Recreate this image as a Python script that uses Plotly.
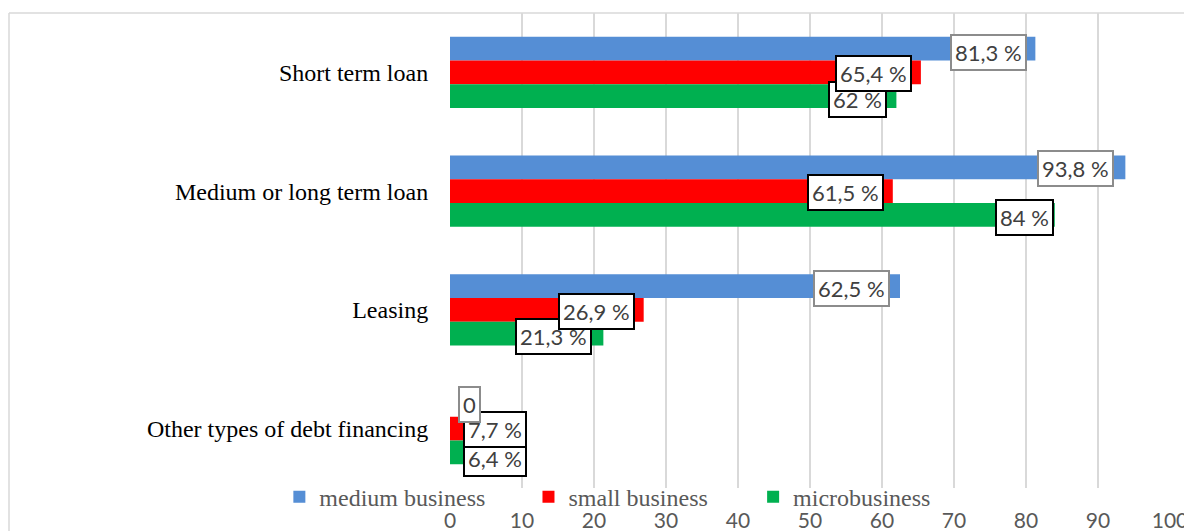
import plotly.graph_objects as go

# ---- data ----
categories = ["Short term loan", "Medium or long term loan", "Leasing", "Other types of debt financing"]
series_names = ["medium business", "small business", "microbusiness"]
medium = [81.3, 93.8, 62.5, 0]
small = [65.4, 61.5, 26.9, 7.7]
micro = [62, 84, 21.3, 6.4]
x_ticks = [0, 10, 20, 30, 40, 50, 60, 70, 80, 90, 100]

# ---- styles / label placement (pixel nudges) ----
colors = ["#558ED5", "#FF0000", "#00B050"]
label_border = ["#8C8C8C", "#000000", "#000000"]
label_xshift = [[-8, -11, -10, 8], [-9, -9, -9, 22], [-9, -1, -11, 31]]
label_yshift = [[20, 23, 21, 24], [-1, -1, -2, -1], [-27, -26, -27, -30]]
legend_x = [-0.237, 0.109, 0.421]
legend_ids = ["legend", "legend2", "legend3"]


def fmt(v):
    if v == 0:
        return "0"
    if float(v).is_integer():
        return f"{int(v)} %"
    return f"{v:.1f}".replace(".", ",") + " %"


all_series = [medium, small, micro]

fig = go.Figure()
for name, vals, col, lid in zip(series_names, all_series, colors, legend_ids):
    fig.add_trace(go.Bar(
        y=categories, x=vals, name=name, orientation="h",
        marker=dict(color=col, line=dict(width=0)),
        legend=lid,
    ))

annotations = []
for si in [2, 1, 0]:
    for ci, cat in enumerate(categories):
        v = all_series[si][ci]
        annotations.append(dict(
            x=v, y=cat, xref="x", yref="y",
            text=fmt(v), showarrow=False,
            xanchor="left" if v == 0 else "right", yanchor="middle",
            xshift=label_xshift[si][ci], yshift=label_yshift[si][ci],
            font=dict(family="Lato", size=22, color="#404040"),
            bgcolor="white", bordercolor=label_border[si], borderwidth=2, borderpad=3,
        ))

# chart-area frame (left and top edges)
shapes = [
    dict(type="line", xref="paper", yref="paper", x0=-0.6125, x1=1.05, y0=1.0, y1=1.0,
         line=dict(color="#D9D9D9", width=1.5)),
    dict(type="line", xref="paper", yref="paper", x0=-0.6125, x1=-0.6125, y0=1.0, y1=-0.2,
         line=dict(color="#D9D9D9", width=1.5)),
]

legend_common = dict(
    orientation="h", y=-0.019, xanchor="left", yanchor="middle",
    font=dict(family="Liberation Serif", size=24, color="#595959"),
    bgcolor="rgba(0,0,0,0)", itemwidth=30,
)

fig.update_layout(
    width=1192, height=531,
    margin=dict(l=442, r=30, t=5, b=51, autoexpand=False),
    paper_bgcolor="white", plot_bgcolor="white",
    barmode="group", bargap=0.40, bargroupgap=0,
    showlegend=True,
    legend=dict(x=legend_x[0], **legend_common),
    legend2=dict(x=legend_x[1], **legend_common),
    legend3=dict(x=legend_x[2], **legend_common),
    xaxis=dict(
        range=[0, 100], tickvals=x_ticks, ticktext=[str(t) for t in x_ticks],
        showgrid=True, gridcolor="#D9D9D9", gridwidth=1.5,
        zeroline=False, showline=False,
        ticks="outside", ticklen=14, tickcolor="rgba(0,0,0,0)",
        tickfont=dict(family="Lato", size=21, color="#595959"),
    ),
    yaxis=dict(
        categoryorder="array", categoryarray=categories, autorange="reversed",
        showgrid=False, zeroline=False, showline=False,
        ticks="outside", ticklen=16, tickcolor="rgba(0,0,0,0)",
        tickfont=dict(family="Liberation Serif", size=24, color="#000000"),
    ),
    annotations=annotations,
    shapes=shapes,
)

fig.write_html("out.html")
